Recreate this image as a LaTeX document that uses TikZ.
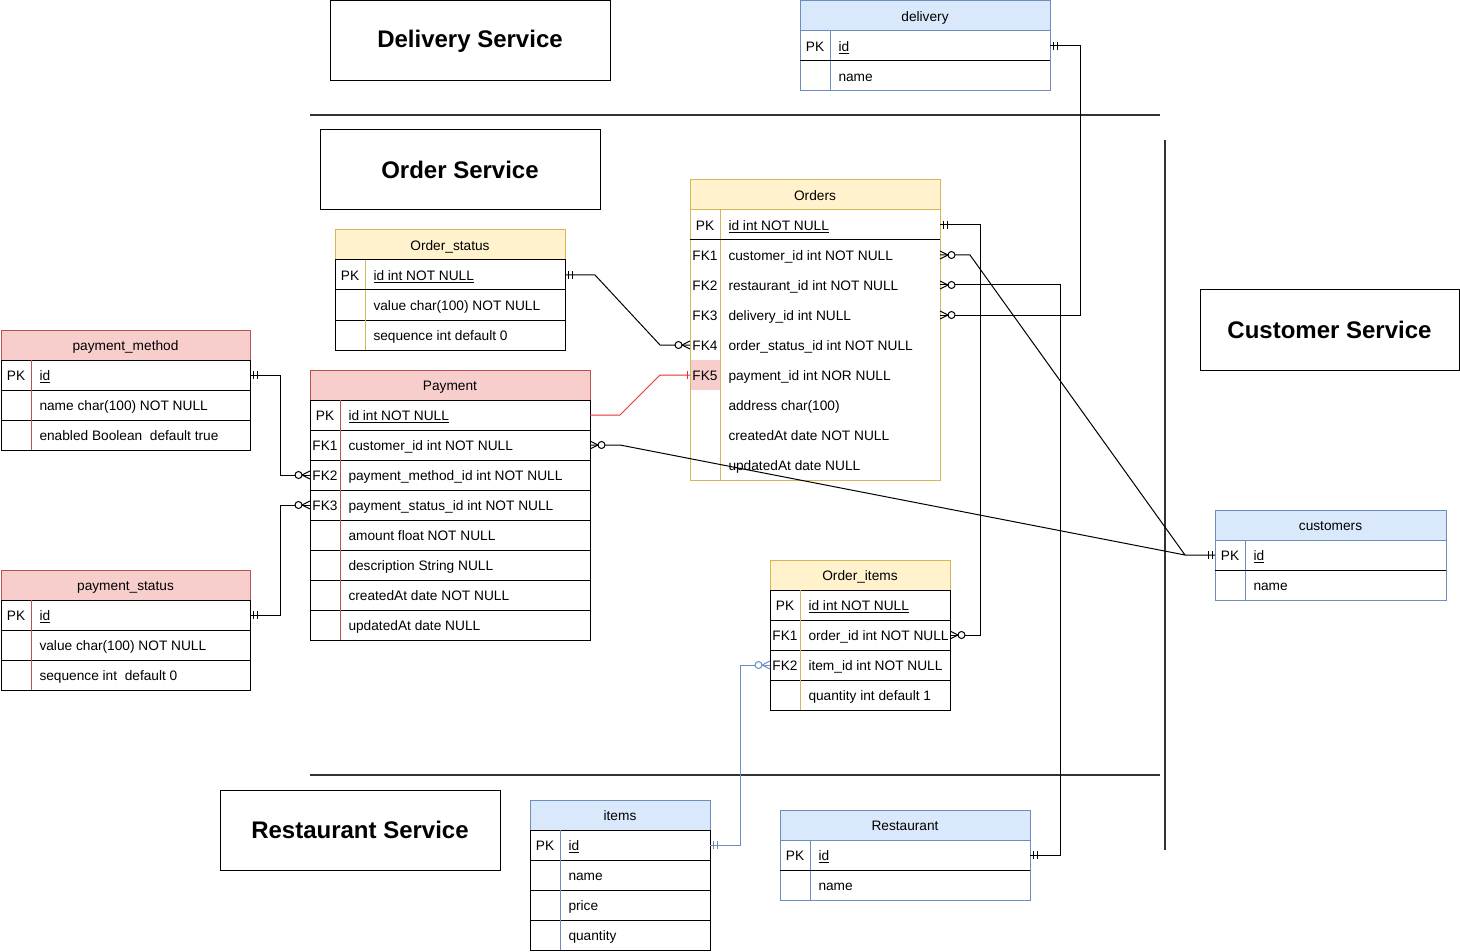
\documentclass[tikz,border=0pt]{standalone}
\usepackage{fontspec}
\setmainfont{Liberation Sans}
\usepackage{tikz}

\definecolor{yelfill}{HTML}{FFF2CC}
\definecolor{yelline}{HTML}{D6B656}
\definecolor{redfill}{HTML}{F8CECC}
\definecolor{redline}{HTML}{B85450}
\definecolor{blufill}{HTML}{DAE8FC}
\definecolor{bluline}{HTML}{6C8EBF}
\definecolor{relred}{HTML}{E8302F}

\tikzstyle{erhead}   = [rectangle, minimum height=30, inner sep=0pt, outer sep=0pt,
                        text height=11, text depth=0]
\tikzstyle{gridrow}  = [rectangle, minimum height=30, inner sep=0pt, outer sep=0pt, draw=black]
\tikzstyle{plainrow} = [rectangle, minimum height=30, inner sep=0pt, outer sep=0pt]
\tikzstyle{erkey}    = [inner sep=0pt, text height=11, text depth=0]
\tikzstyle{erfield}  = [inner sep=0pt, anchor=west, text height=11, text depth=0]
\tikzstyle{svcbox}   = [draw, minimum height=80, inner sep=0pt, outer sep=0pt,
                        font=\fontsize{24}{28}\selectfont\bfseries]
\tikzstyle{sepline}  = [line width=2pt, black!80]
\tikzstyle{rel}      = [line width=1pt, black]

% crow's foot ends, drawn pointing away from the table
\tikzset{
  mandone/.pic  = {\draw[line width=1pt] (3,-4)--(3,4) (7,-4)--(7,4);},
  onlyone/.pic  = {\draw[line width=1pt] (3,-4)--(3,4);},
  zeromany/.pic = {\draw[line width=1pt] (0,-4)--(8,0)--(0,4);
                   \draw[line width=1pt, fill=white] (11.5,0) circle[radius=3.5];}
}

% #1 name, #2 x, #3 y, #4 width, #5 colour, #6 title, #7 rows, #8 row style
\newcommand{\ertable}[8]{%
  \node[erhead, fill=#5fill, draw=#5line, minimum width=#4] (#1) at (#2+#4/2, #3+15) {#6};
  \foreach \k/\f/\n [count=\i] in {#7} {
    \node[#8, minimum width=#4] (#1-\n) at (#2+#4/2, #3+15+30*\i) {};
    \draw[#5line] (#2+30, #3+30*\i) -- (#2+30, #3+30+30*\i);
    \node[erkey] at (#2+15, #3+15+30*\i) {\k};
    \node[erfield] at (#2+38, #3+15+30*\i) {\f};
  }%
}

\begin{document}
\begin{tikzpicture}[x=1pt, y=-1pt, line width=1pt,
                    font=\fontsize{13.7}{16}\selectfont]
\useasboundingbox (0,0) rectangle (1460,952);

    % service titles and borders
    \node[svcbox, minimum width=280] (dsvc) at (470,41)    {Delivery Service};
    \node[svcbox, minimum width=280] (osvc) at (460,170)   {Order Service};
    \node[svcbox, minimum width=259] (csvc) at (1329.5,330) {Customer Service};
    \node[svcbox, minimum width=280] (rsvc) at (360,830)   {Restaurant Service};

    \draw[sepline] (310,115) -- (1160,115);
    \draw[sepline] (310,775) -- (1160,775);
    \draw[sepline] (1165,140) -- (1165,850);

    % tables
    \ertable{dlv}{800}{1}{250}{blu}{delivery}
        {PK/\underline{id}/pk, /name/name}{plainrow}
    \draw[bluline] (dlv.north west) rectangle (dlv-name.south east);
    \draw (dlv-pk.south west) -- (dlv-pk.south east);

    \fill[redfill] (690,360) rectangle (720,390);
    \ertable{orders}{690}{180}{250}{yel}{Orders}
        {PK/\underline{id int NOT NULL}/pk,
         FK1/customer\_id int NOT NULL/fk1,
         FK2/restaurant\_id int NOT NULL/fk2,
         FK3/delivery\_id int NULL/fk3,
         FK4/order\_status\_id int NOT NULL/fk4,
         FK5/payment\_id int NOR NULL/fk5,
         /address char(100)/addr,
         /createdAt date NOT NULL/crt,
         /updatedAt date NULL/upd}{plainrow}
    \draw[yelline] (orders.north west) rectangle (orders-upd.south east);
    \draw (orders-pk.south west) -- (orders-pk.south east);

    \ertable{ostatus}{335}{230}{230}{yel}{Order\_status}
        {PK/\underline{id int NOT NULL}/pk,
         /value char(100) NOT NULL/val,
         /sequence int default 0/seq}{gridrow}

    \ertable{pmethod}{1}{330}{249}{red}{payment\_method}
        {PK/\underline{id}/pk,
         /name char(100) NOT NULL/name,
         /enabled Boolean\ \ default true/enab}{gridrow}

    \ertable{pstatus}{1}{570}{249}{red}{payment\_status}
        {PK/\underline{id}/pk,
         /value char(100) NOT NULL/val,
         /sequence int\ \ default 0/seq}{gridrow}

    \ertable{pay}{310}{370}{280}{red}{Payment}
        {PK/\underline{id int NOT NULL}/pk,
         FK1/customer\_id int NOT NULL/fk1,
         FK2/payment\_method\_id int NOT NULL/fk2,
         FK3/payment\_status\_id int NOT NULL/fk3,
         /amount float NOT NULL/amt,
         /description String NULL/desc,
         /createdAt date NOT NULL/crt,
         /updatedAt date NULL/upd}{gridrow}

    \ertable{oitems}{770}{560}{180}{yel}{Order\_items}
        {PK/\underline{id int NOT NULL}/pk,
         FK1/order\_id int NOT NULL/fk1,
         FK2/item\_id int NOT NULL/fk2,
         /quantity int default 1/qty}{gridrow}

    \ertable{items}{530}{800}{180}{blu}{items}
        {PK/\underline{id}/pk, /name/name, /price/price, /quantity/qty}{gridrow}

    \ertable{rest}{780}{810}{250}{blu}{Restaurant}
        {PK/\underline{id}/pk, /name/name}{plainrow}
    \draw[bluline] (rest.north west) rectangle (rest-name.south east);
    \draw (rest-pk.south west) -- (rest-pk.south east);

    \ertable{cust}{1215}{510}{231}{blu}{customers}
        {PK/\underline{id}/pk, /name/name}{plainrow}
    \draw[bluline] (cust.north west) rectangle (cust-name.south east);
    \draw (cust-pk.south west) -- (cust-pk.south east);

    % relations
    \draw[rel] (dlv-pk.east) -- ++(30,0) |- (orders-fk3.east);
    \draw[rel] (orders-pk.east) -- ++(40,0) |- (oitems-fk1.east);
    \draw[rel] (orders-fk2.east) -- ++(120,0) |- (rest-pk.east);
    \draw[rel] (orders-fk1.east) -- ++(30,0) -- ([xshift=-30]cust-pk.west) -- (cust-pk.west);
    \draw[rel] (pay-fk1.east) -- ++(30,0) -- ([xshift=-30]cust-pk.west);
    \draw[rel] (ostatus-pk.east) -- ++(30,0) -- ([xshift=-30]orders-fk4.west) -- (orders-fk4.west);
    \draw[rel, relred] (pay-pk.east) -- ++(30,0) -- ([xshift=-30]orders-fk5.west) -- (orders-fk5.west);
    \draw[rel] (pmethod-pk.east) -- ++(30,0) |- (pay-fk2.west);
    \draw[rel] (pstatus-pk.east) -- ++(30,0) |- (pay-fk3.west);
    \draw[rel, bluline] (items-pk.east) -- ++(30,0) |- (oitems-fk2.west);

    % ends
    \pic at (dlv-pk.east) {mandone};
    \pic at (orders-fk3.east) {zeromany};
    \pic at (orders-pk.east) {mandone};
    \pic at (oitems-fk1.east) {zeromany};
    \pic at (orders-fk2.east) {zeromany};
    \pic at (rest-pk.east) {mandone};
    \pic at (orders-fk1.east) {zeromany};
    \pic at (pay-fk1.east) {zeromany};
    \pic[rotate=180] at (cust-pk.west) {mandone};
    \pic at (ostatus-pk.east) {mandone};
    \pic[rotate=180] at (orders-fk4.west) {zeromany};
    \pic[rotate=180, relred] at (orders-fk5.west) {onlyone};
    \pic at (pmethod-pk.east) {mandone};
    \pic[rotate=180] at (pay-fk2.west) {zeromany};
    \pic at (pstatus-pk.east) {mandone};
    \pic[rotate=180] at (pay-fk3.west) {zeromany};
    \pic[bluline] at (items-pk.east) {mandone};
    \pic[rotate=180, bluline] at (oitems-fk2.west) {zeromany};

\end{tikzpicture}
\end{document}
